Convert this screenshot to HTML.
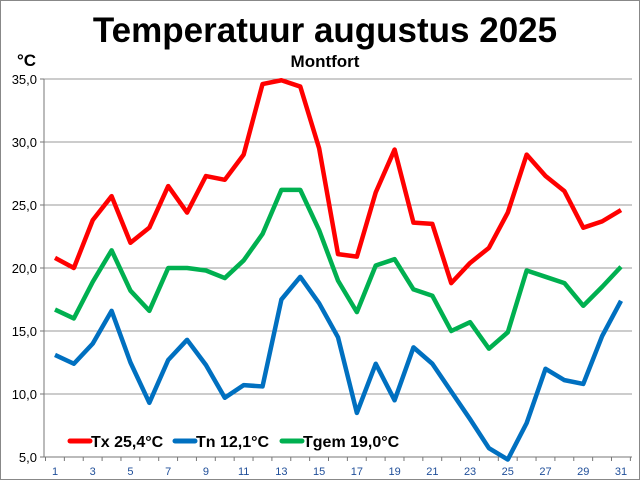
<!DOCTYPE html>
<html><head><meta charset="utf-8"><style>
body{margin:0;background:#fff}
svg text{font-family:"Liberation Sans",Arial,sans-serif}
</style></head><body>
<svg id="s" width="640" height="480" xmlns="http://www.w3.org/2000/svg">
<rect x="0.5" y="0.5" width="639" height="479" fill="#fff" stroke="#888"/>
<text x="325" y="42" font-size="35" font-weight="bold" text-anchor="middle">Temperatuur augustus 2025</text>
<text x="325" y="67" font-size="17" font-weight="bold" text-anchor="middle">Montfort</text>
<text x="17" y="66" font-size="17" font-weight="bold">°C</text>
<g id="g"></g>
</svg>
<script>
const g=document.getElementById('g');let h='';
const X=d=>55+(d-1)*18.867, Y=v=>457-(v-5)*12.6;
for(let v=5;v<=35;v+=5){const y=Y(v);
 if(v>5)h+=`<line x1="44" x2="632" y1="${y}" y2="${y}" stroke="#999" stroke-width="1"/>`;
 h+=`<line x1="40" x2="44" y1="${y}" y2="${y}" stroke="#777"/>`;
 h+=`<text x="37" y="${y+5}" font-size="13" text-anchor="end">${v.toFixed(1).replace('.',',')}</text>`;}
h+=`<line x1="44" x2="44" y1="79" y2="457" stroke="#777"/><line x1="44" x2="632" y1="457" y2="457" stroke="#777"/>`;
for(let d=0;d<=31;d++){const x=45.5+d*18.867;h+=`<line x1="${x}" x2="${x}" y1="457" y2="461" stroke="#777"/>`;}
for(let d=1;d<=31;d+=2)h+=`<text x="${X(d)}" y="475" font-size="11" fill="#1f4e99" text-anchor="middle">${d}</text>`;
const tx=[20.8,20.0,23.8,25.7,22.0,23.2,26.5,24.4,27.3,27.0,29.0,34.6,34.9,34.4,29.5,21.1,20.9,26.0,29.4,23.6,23.5,18.8,20.4,21.6,24.4,29.0,27.3,26.1,23.2,23.7,24.6];
const tn=[13.1,12.4,14.0,16.6,12.5,9.3,12.7,14.3,12.3,9.7,10.7,10.6,17.5,19.3,17.2,14.5,8.5,12.4,9.5,13.7,12.4,10.2,8.0,5.7,4.8,7.7,12.0,11.1,10.8,14.6,17.4];
const tg=[16.7,16.0,18.9,21.4,18.2,16.6,20.0,20.0,19.8,19.2,20.6,22.7,26.2,26.2,23.0,19.0,16.5,20.2,20.7,18.3,17.8,15.0,15.7,13.6,14.9,19.8,19.3,18.8,17.0,18.5,20.1];
h+=`<rect x="60" y="428" width="330" height="20" fill="#fff"/>`;
[[tx,'#ff0000'],[tn,'#0070c0'],[tg,'#00b050']].forEach(([a,c])=>{
 h+=`<polyline fill="none" stroke="${c}" stroke-width="4.5" stroke-linejoin="round" points="${a.map((v,i)=>X(i+1)+','+Y(v)).join(' ')}"/>`;});
[[70,'#ff0000','Tx 25,4°C'],[175,'#0070c0','Tn 12,1°C'],[282,'#00b050','Tgem 19,0°C']].forEach(([x,c,t])=>{
 h+=`<line x1="${x}" x2="${x+20}" y1="441" y2="441" stroke="${c}" stroke-width="5" stroke-linecap="round"/>`;
 h+=`<text x="${x+21}" y="447" font-size="16" font-weight="bold">${t}</text>`;});
g.innerHTML=h;
</script>
</body></html>
